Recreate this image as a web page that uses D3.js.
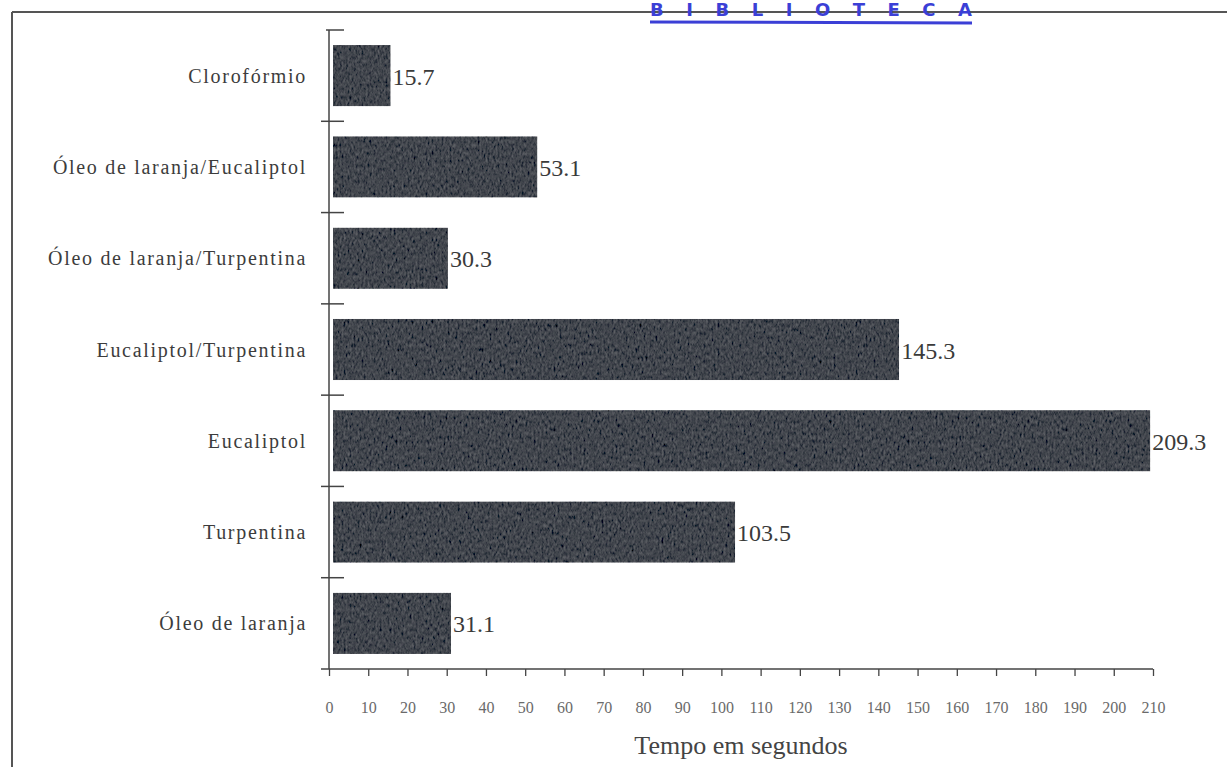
<!DOCTYPE html>
<html>
<head>
<meta charset="utf-8">
<script src="https://cdn.jsdelivr.net/npm/d3@7"></script>
<style>
  body { margin: 0; background: #fff; }
  svg { display: block; }
</style>
</head>
<body>
<svg id="chart" width="1227" height="767"></svg>
<script>
// data
var categories = ["Clorofórmio", "Óleo de laranja/Eucaliptol", "Óleo de laranja/Turpentina",
    "Eucaliptol/Turpentina", "Eucaliptol", "Turpentina", "Óleo de laranja"];
var tempos = [15.7, 53.1, 30.3, 145.3, 209.3, 103.5, 31.1];
var xTicks = d3.range(0, 211, 10);
var axisTitle = "Tempo em segundos";

var svg = d3.select("#chart");
var serif = "'Liberation Serif', 'DejaVu Serif', serif";

var x = d3.scaleLinear().domain([0, 210]).range([329, 1153]);
var y = d3.scaleBand().domain(categories).range([30, 669]).paddingInner(0.33).paddingOuter(0.165);
var step = y.step();

// scan grain for the bars
var defs = svg.append("defs");
var f = defs.append("filter").attr("id", "grain").attr("x", 0).attr("y", 0).attr("width", 1).attr("height", 1);
f.append("feTurbulence").attr("type", "fractalNoise").attr("baseFrequency", "0.5 0.25")
    .attr("numOctaves", 2).attr("seed", 7).attr("result", "n");
f.append("feColorMatrix").attr("in", "n").attr("type", "matrix")
    .attr("values", "0.33 0.33 0.33 0 0  0.33 0.33 0.33 0 0  0.33 0.33 0.33 0 0  0 0 0 0 1")
    .attr("result", "g");
f.append("feComposite").attr("in", "SourceGraphic").attr("in2", "g").attr("operator", "arithmetic")
    .attr("k1", 0).attr("k2", 1).attr("k3", 0.3).attr("k4", -0.15).attr("result", "m");
f.append("feComposite").attr("in", "m").attr("in2", "SourceGraphic").attr("operator", "in");

// frame (top + left edges of the scanned page)
svg.append("line").attr("x1", 12).attr("x2", 1227).attr("y1", 12).attr("y2", 12)
    .attr("stroke", "#555").attr("stroke-width", 2);
svg.append("line").attr("x1", 12).attr("x2", 12).attr("y1", 12).attr("y2", 767)
    .attr("stroke", "#555").attr("stroke-width", 2);

// library stamp at the top edge
var stamp = svg.append("g").attr("fill", "#3b3fd6").attr("stroke", "#3b3fd6");
stamp.append("text").attr("x", 650).attr("y", 16)
    .attr("textLength", 322).attr("lengthAdjust", "spacing")
    .attr("stroke", "none")
    .style("font-family", "'DejaVu Sans', sans-serif").style("font-weight", "bold").style("font-size", "18px")
    .text("BIBLIOTECA");
stamp.append("line").attr("x1", 650).attr("x2", 972).attr("y1", 22).attr("y2", 23).attr("stroke-width", 3);

// bars
svg.selectAll("rect.bar").data(categories).enter().append("rect")
    .attr("class", "bar")
    .attr("x", x(0) + 4)
    .attr("y", function (d) { return y(d); })
    .attr("width", function (d, i) { return x(tempos[i]) - x(0) - 4; })
    .attr("height", y.bandwidth())
    .attr("fill", "#42464d")
    .attr("filter", "url(#grain)");

// value labels
svg.selectAll("text.val").data(categories).enter().append("text")
    .attr("class", "val")
    .attr("x", function (d, i) { return x(tempos[i]) + 2; })
    .attr("y", function (d) { return y(d) + y.bandwidth() / 2 + 9; })
    .attr("fill", "#3a3a3a")
    .style("font-family", serif).style("font-size", "24px")
    .text(function (d, i) { return tempos[i].toFixed(1); });

// category labels
svg.selectAll("text.cat").data(categories).enter().append("text")
    .attr("class", "cat")
    .attr("x", 307)
    .attr("y", function (d) { return y(d) + y.bandwidth() / 2 + 7; })
    .attr("text-anchor", "end")
    .attr("fill", "#3c3c3c")
    .style("font-family", serif).style("font-size", "20px").style("letter-spacing", "1.7px")
    .text(function (d) { return d; });

// vertical axis with ticks between categories
var axisCol = "#444";
svg.append("line").attr("x1", x(0)).attr("x2", x(0)).attr("y1", 30).attr("y2", 669)
    .attr("stroke", axisCol).attr("stroke-width", 1.5);
var bounds = categories.map(function (d) { return y(d) - (step - y.bandwidth()) / 2; });
svg.selectAll("line.ytick").data(bounds).enter().append("line")
    .attr("class", "ytick")
    .attr("x1", function (d, i) { return i === 0 ? x(0) - 3 : x(0) - 8; })
    .attr("x2", x(0) + 15)
    .attr("y1", function (d) { return d; }).attr("y2", function (d) { return d; })
    .attr("stroke", axisCol).attr("stroke-width", 1.5);

// horizontal axis
var xAxis = svg.append("g").attr("transform", "translate(0,669)")
    .call(d3.axisBottom(x).tickValues(xTicks).tickSize(7).tickSizeOuter(0).tickPadding(26));
xAxis.select(".domain").attr("d", "M" + (x(0) - 8) + ",0H" + x(210)).attr("stroke", axisCol).attr("stroke-width", 1.5);
xAxis.selectAll(".tick line").attr("stroke", axisCol).attr("stroke-width", 1.3);
xAxis.selectAll(".tick text").attr("fill", "#6a6a6a")
    .style("font-family", serif).style("font-size", "16px");

svg.append("text").attr("x", 741).attr("y", 754).attr("text-anchor", "middle")
    .attr("fill", "#444")
    .style("font-family", serif).style("font-size", "26px")
    .text(axisTitle);
</script>
</body>
</html>
